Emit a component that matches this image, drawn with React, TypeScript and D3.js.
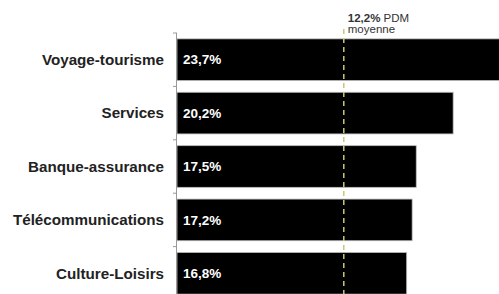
import React from "react";
import * as d3 from "d3";

const categories = ["Voyage-tourisme", "Services", "Banque-assurance", "Télécommunications", "Culture-Loisirs"];
const values = [23.7, 20.2, 17.5, 17.2, 16.8];
const valueLabels = ["23,7%", "20,2%", "17,5%", "17,2%", "16,8%"];
const meanValue = 12.2;
const meanLabelBold = "12,2%";
const meanLabelRest = " PDM";
const meanLabelLine2 = "moyenne";

const W = 499;
const H = 294;

export default function App() {
  const x = d3.scaleLinear().domain([0, 23.7]).range([177, 501]);
  const y = d3.scaleBand<string>().domain(categories).range([33, 300]).paddingInner(0.22).paddingOuter(0.11);
  const step = y.step();
  const x0 = x(0);
  const mx = x(meanValue);
  const font = "'Liberation Sans', Arial, sans-serif";
  return (
    <svg width={W} height={H} style={{ position: "absolute", left: 0, top: 0, background: "#fff" }} fontFamily={font}>
      {categories.map((c, i) => (
        <g key={c}>
          <rect x={x0} y={y(c)!} width={x(values[i]) - x0} height={y.bandwidth()} fill="#000" stroke="#bbb" strokeWidth={0.8} />
          <text x={164} y={y(c)! + y.bandwidth() / 2} dy="0.35em" textAnchor="end" fontWeight="bold" fontSize={15.2} fill="#222">{c}</text>
          <text x={x0 + 6} y={y(c)! + y.bandwidth() / 2} dy="0.35em" fontWeight="bold" fontSize={13.5} fill="#fff">{valueLabels[i]}</text>
        </g>
      ))}
      <line x1={x0 - 0.5} x2={x0 - 0.5} y1={33} y2={H} stroke="#999" strokeWidth={1} />
      {d3.range(categories.length + 1).map((i) => (
        <line key={i} x1={x0 - 4} x2={x0} y1={33 + i * step} y2={33 + i * step} stroke="#999" strokeWidth={1} />
      ))}
      <line x1={mx} x2={mx} y1={29} y2={H} stroke="#c8c87a" strokeWidth={1.5} strokeDasharray="5,4" />
      <text x={mx + 4} y={22} fontSize={11.5} fill="#333">
        <tspan fontWeight="bold">{meanLabelBold}</tspan>
        <tspan>{meanLabelRest}</tspan>
      </text>
      <text x={mx + 4} y={33} fontSize={11.5} fill="#333">{meanLabelLine2}</text>
    </svg>
  );
}
